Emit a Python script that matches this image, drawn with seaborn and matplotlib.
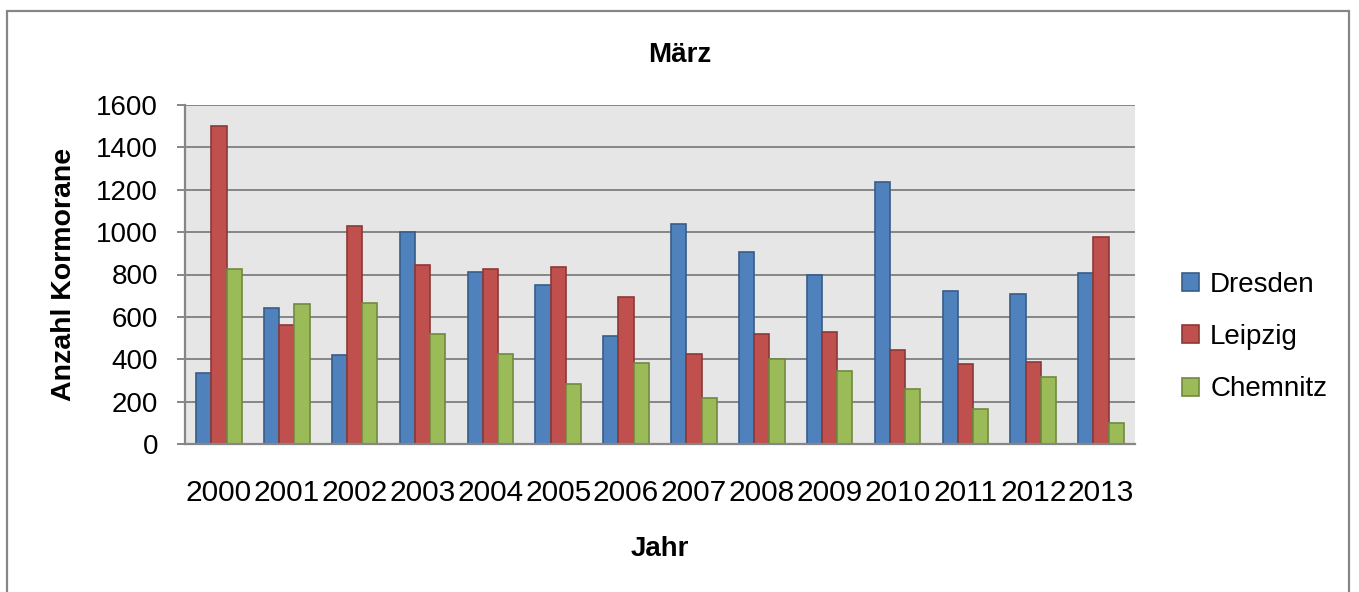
import pandas as pd
import matplotlib.pyplot as plt
import seaborn as sns
from matplotlib.patches import Rectangle

# Data (Kormorane im März)
years = ["2000", "2001", "2002", "2003", "2004", "2005", "2006",
         "2007", "2008", "2009", "2010", "2011", "2012", "2013"]
dresden = [333, 641, 418, 1002, 811, 750, 509, 1040, 905, 797, 1238, 720, 710, 805]
leipzig = [1500, 561, 1028, 847, 828, 835, 696, 427, 519, 527, 442, 376, 387, 979]
chemnitz = [828, 660, 665, 519, 427, 283, 382, 217, 401, 344, 258, 165, 314, 99]
cities = ["Dresden", "Leipzig", "Chemnitz"]
yticks = [0, 200, 400, 600, 800, 1000, 1200, 1400, 1600]

colors = ["#4F81BD", "#C0504D", "#9BBB59"]
edges = ["#385D8A", "#8C3836", "#71893F"]

df = pd.DataFrame({"Jahr": years * 3,
                   "Anzahl": dresden + leipzig + chemnitz,
                   "Stadt": [c for c in cities for _ in years]})

sns.set_style("white")
plt.rcParams["font.family"] = ["Liberation Sans", "DejaVu Sans"]
plt.rcParams["text.color"] = "black"
plt.rcParams["axes.labelcolor"] = "black"
plt.rcParams["xtick.labelcolor"] = "black"
plt.rcParams["ytick.labelcolor"] = "black"

W, H = 1359, 592
fig = plt.figure(figsize=(W / 100, H / 100), dpi=100)
ax = fig.add_axes([185 / W, 1 - 444 / H, 950 / W, 339 / H])
ax.set_facecolor("#E6E6E6")

sns.barplot(data=df, x="Jahr", y="Anzahl", hue="Stadt", palette=colors,
            width=0.67, saturation=1, ax=ax, legend=True)

# darker edges for each series
for cont, ec in zip(ax.containers, edges):
    for bar in cont:
        bar.set_edgecolor(ec)
        bar.set_linewidth(1.2)

ax.set_ylim(0, 1600)
ax.set_xlim(-0.5, len(years) - 0.5)
ax.set_yticks(yticks)
ax.yaxis.grid(True, color="#868686", linewidth=1.4)
ax.set_axisbelow(True)
for s in ["top", "right"]:
    ax.spines[s].set_visible(False)
for s in ["left", "bottom"]:
    ax.spines[s].set_color("#868686")
    ax.spines[s].set_linewidth(1.6)

ax.tick_params(axis="y", length=6, width=1.4, color="#868686", pad=13.5,
               labelsize=20, left=True, labelcolor="black")
ax.tick_params(axis="x", length=0, pad=25, labelsize=21.5, labelcolor="black")

ax.set_ylabel("Anzahl Kormorane", fontsize=20.5, fontweight="bold", color="black")
ax.yaxis.set_label_coords(-0.114, 0.5)
ax.set_xlabel("Jahr", fontsize=20, fontweight="bold", color="black")
ax.xaxis.set_label_coords(0.5, -0.272)

fig.text(0.5, 1 - 62 / H, "März", ha="center", va="baseline",
         fontsize=20, fontweight="bold", color="black")

handles, labels = ax.get_legend_handles_labels()
ax.get_legend().remove()
for h, ec in zip(handles, edges):
    h.set_edgecolor(ec)
    h.set_linewidth(1.2)
leg = fig.legend(handles, labels, loc="center left",
                 bbox_to_anchor=(1168 / W, 1 - 337 / H), frameon=False,
                 fontsize=20, handlelength=0.62, handleheight=0.62,
                 handletextpad=0.4, labelspacing=0.95, borderpad=0)
for t in leg.get_texts():
    t.set_color("black")

# grey border around the chart area
fig.patches.append(Rectangle((6.5 / W, -0.05), (1349 - 6.5) / W, 1.05 - 11 / H,
                             transform=fig.transFigure, fill=False,
                             edgecolor="#868686", linewidth=1.6))

fig.savefig("out.png", dpi=100)
